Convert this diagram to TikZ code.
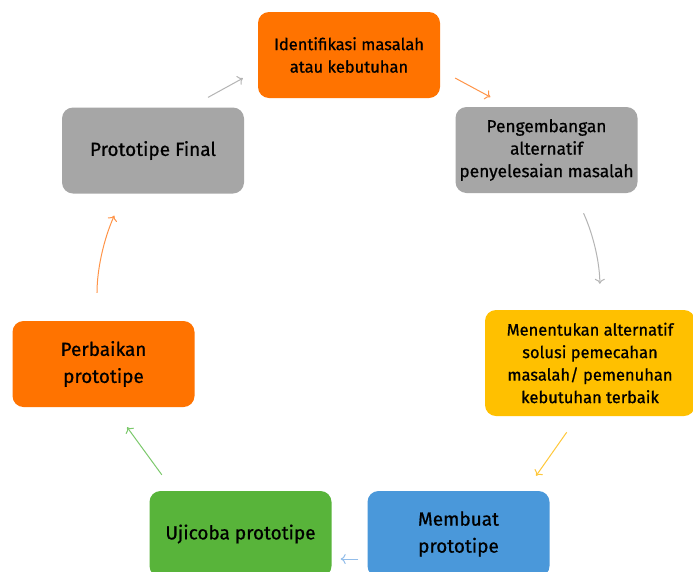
\documentclass[tikz,border=0pt]{standalone}
\usepackage{fontspec}
\setmainfont{Fira Sans}[FakeBold=0.7]
\usetikzlibrary{arrows.meta}
\definecolor{orangeBox}{HTML}{FF7300}
\definecolor{grayBox}{HTML}{A6A6A6}
\definecolor{yellowBox}{HTML}{FFC000}
\definecolor{blueBox}{HTML}{4A98DA}
\definecolor{greenBox}{HTML}{58B43A}
\definecolor{orangeArr}{HTML}{FF9448}
\definecolor{grayArr}{HTML}{B4B4B4}
\definecolor{yellowArr}{HTML}{FFC83A}
\definecolor{blueArr}{HTML}{92BDEA}
\definecolor{greenArr}{HTML}{7CC96C}

\begin{document}
\begin{tikzpicture}[x=1pt, y=-1pt, ->, >={To[length=5pt,width=10pt]},
    box/.style={rounded corners=11pt, minimum width=182pt, minimum height=86pt, align=center, inner sep=2pt,
        font=\fontsize{16.5}{22.5}\selectfont},
    bigtext/.style={font=\fontsize{19}{27}\selectfont},
    flow/.style={line width=1pt}]
    \path[use as bounding box, clip] (0,0) rectangle (693,571);
    \fill[white] (0,0) rectangle (693,571);
    \node [box, fill=orangeBox] (ident) at (349,55) {Identifikasi masalah\\atau kebutuhan};
    \node [box, fill=grayBox, font=\fontsize{17.3}{22.5}\selectfont] (peng) at (546.5,150) {Pengembangan\\alternatif\\penyelesaian masalah};
    \node [box, fill=yellowBox, minimum width=210pt, minimum height=106pt] (ment) at (590,363) {Menentukan alternatif\\solusi pemecahan\\masalah/ pemenuhan\\kebutuhan terbaik};
    \node [box, bigtext, fill=blueBox] (memb) at (458.5,534) {Membuat\\prototipe};
    \node [box, bigtext, fill=greenBox] (uji) at (240.5,534) {Ujicoba prototipe};
    \node [box, bigtext, fill=orangeBox] (perb) at (103.5,364) {Perbaikan\\prototipe};
    \node [box, bigtext, fill=grayBox] (final) at (153,150.5) {Prototipe Final};
    \path ([xshift=37pt]final.north) edge[flow, grayArr, shorten <=20.6pt, shorten >=17pt] ([yshift=-15pt]ident.west);
    \path ([yshift=-15pt]ident.east) edge[flow, orangeArr, shorten <=17pt, shorten >=20.6pt] ([xshift=-38pt]peng.north);
    \path ([xshift=28pt]peng.south) edge[flow, grayArr, bend left=12, shorten <=22pt, shorten >=26pt] ([xshift=10pt]ment.north);
    \path ([xshift=-12pt]ment.south) edge[flow, yellowArr, shorten <=19.6pt, shorten >=18.4pt] ([xshift=67pt]memb.north);
    \path ([yshift=-25pt]memb.west) edge[flow, blueArr, shorten <=9pt, shorten >=9pt] ([yshift=-25pt]uji.east);
    \path ([xshift=-67pt]uji.north) edge[flow, greenArr, shorten <=19.8pt, shorten >=24.8pt] ([xshift=9pt]perb.south);
    \path ([xshift=-6.5pt]perb.north) edge[flow, orangeArr, bend left=12, shorten <=28pt, shorten >=24pt] ([xshift=-29pt]final.south);
\end{tikzpicture}
\end{document}
